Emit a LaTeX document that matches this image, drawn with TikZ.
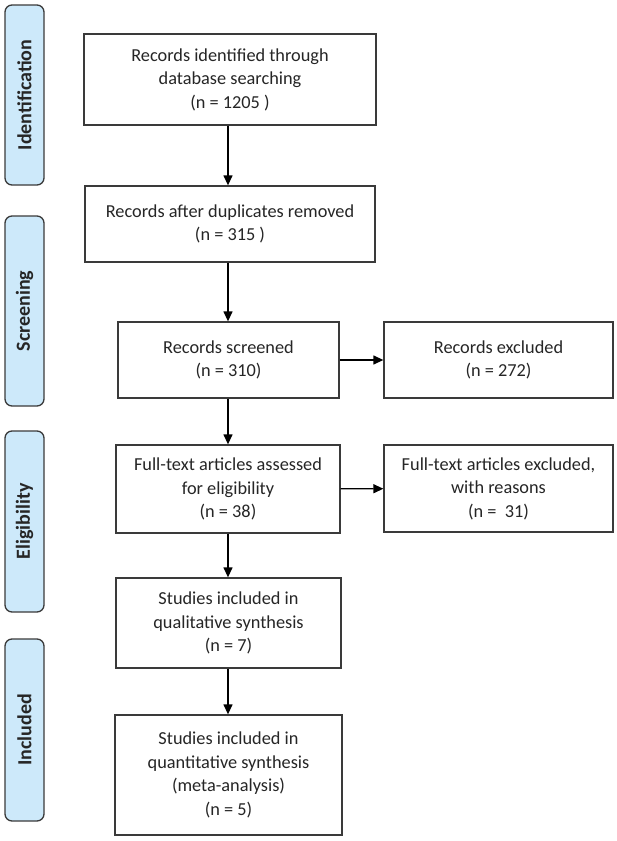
\documentclass[tikz,border=0pt]{standalone}
\usepackage{fontspec}
\setmainfont{Carlito}
\usetikzlibrary{arrows.meta}
\definecolor{sidefill}{HTML}{CDE9FA}
\definecolor{edge}{HTML}{3A3A3A}
\begin{document}
\begin{tikzpicture}[x=1pt,y=-1pt,
  box/.style={draw=edge, line width=1.3pt, fill=white, align=center, inner sep=0pt,
    font=\fontsize{18.3}{23.5}\selectfont, text=black!85},
  side/.style={draw=edge, line width=1.3pt, fill=sidefill, rounded corners=7pt,
    minimum width=39pt, inner sep=0pt},
  sidelabel/.style={rotate=90, font=\fontsize{20}{22}\selectfont\bfseries, text=black!85},
  arr/.style={draw=black, line width=1.3pt, -{Triangle[length=10pt,width=9pt]}}]
\useasboundingbox (0,0) rectangle (617,841);
% side bars
\node[side, minimum height=180pt] (s1) at (24.5,95) {};
\node[sidelabel] (l1) at (s1.center) {Identification};
\node[side, minimum height=190pt] (s2) at (24.5,311) {};
\node[sidelabel] (l2) at (s2.center) {Screening};
\node[side, minimum height=181pt] (s3) at (24.5,521.5) {};
\node[sidelabel] (l3) at (s3.center) {Eligibility};
\node[side, minimum height=182pt] (s4) at (24.5,730) {};
\node[sidelabel] (l4) at (s4.center) {Included};
% boxes
\node[box, minimum width=292pt, minimum height=91pt] (b1) at (230,79.5)
  {Records identified through\\database searching\\(n = 1205 )};
\node[box, minimum width=290pt, minimum height=76pt] (b2) at (230,224)
  {Records after duplicates removed\\(n = 315 )};
\node[box, minimum width=221pt, minimum height=76pt] (b3) at (228.5,360)
  {Records screened\\(n = 310)};
\node[box, minimum width=229pt, minimum height=76pt] (e1) at (498.5,360)
  {Records excluded\\(n = 272)};
\node[box, minimum width=224pt, minimum height=88pt] (b4) at (228,489)
  {Full-text articles assessed\\for eligibility\\(n = 38)};
\node[box, minimum width=229pt, minimum height=87pt] (e2) at (498.5,488.5)
  {Full-text articles excluded,\\with reasons\\(n =\ \ 31)};
\node[box, minimum width=225pt, minimum height=90pt] (b5) at (228.5,623)
  {Studies included in\\qualitative synthesis\\(n = 7)};
\node[box, minimum width=227pt, minimum height=120pt] (b6) at (228.5,775)
  {Studies included in\\quantitative synthesis\\(meta-analysis)\\(n = 5)};
% arrows
\draw[arr] (b1.south -| 228,0) -- (b2.north -| 228,0);
\draw[arr] (b2.south -| 228,0) -- (b3.north -| 228,0);
\draw[arr] (b3) -- (e1);
\draw[arr] (b3.south -| 228,0) -- (b4.north -| 228,0);
\draw[arr] (b4) -- (e2);
\draw[arr] (b4.south -| 228,0) -- (b5.north -| 228,0);
\draw[arr] (b5.south -| 228,0) -- (b6.north -| 228,0);
\end{tikzpicture}
\end{document}
